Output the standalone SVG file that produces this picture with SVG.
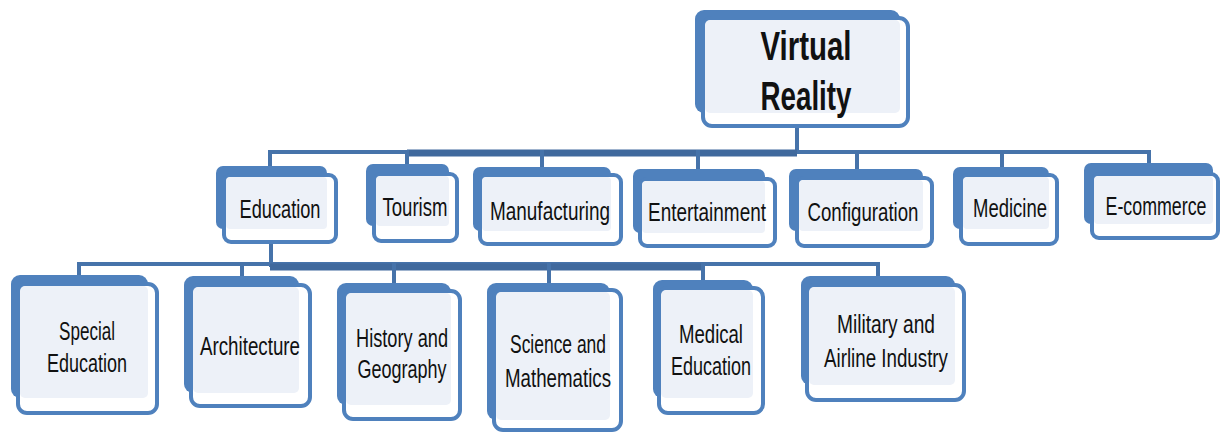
<svg xmlns="http://www.w3.org/2000/svg" width="1224" height="433" viewBox="0 0 1224 433">
<style>
.back{fill:#4f81bd}
.front{fill:#ffffff;stroke:#4f81bd;stroke-width:4}
.light{fill:#edf1f8}
.t{font-family:"Liberation Sans",Arial,sans-serif;font-size:25px;fill:#111;text-anchor:middle}
.tb{font-family:"Liberation Sans",Arial,sans-serif;font-size:41px;font-weight:bold;fill:#111;text-anchor:middle}
.c{stroke:#4673aa;fill:none;stroke-width:4}
.ct{stroke:#40699d;fill:none;stroke-width:7}
</style>
<rect width="1224" height="433" fill="#ffffff"/>
<g id="connectors">
<line class="c" x1="797" y1="126" x2="797" y2="153"/>
<line class="c" x1="270" y1="152" x2="1149" y2="152"/>
<line class="ct" x1="407" y1="153" x2="797" y2="153"/>
<line class="c" x1="270" y1="150" x2="270" y2="170"/>
<line class="c" x1="407" y1="150" x2="407" y2="170"/>
<line class="c" x1="542" y1="150" x2="542" y2="170"/>
<line class="c" x1="698" y1="150" x2="698" y2="172"/>
<line class="c" x1="857" y1="150" x2="857" y2="172"/>
<line class="c" x1="1002" y1="150" x2="1002" y2="170"/>
<line class="c" x1="1149" y1="150" x2="1149" y2="168"/>
<line class="c" x1="271" y1="242" x2="271" y2="267"/>
<line class="c" x1="79" y1="264" x2="878" y2="264"/>
<line class="ct" x1="270" y1="267" x2="703" y2="267"/>
<line class="c" x1="79" y1="262" x2="79" y2="280"/>
<line class="c" x1="242" y1="262" x2="242" y2="280"/>
<line class="c" x1="394" y1="262" x2="394" y2="286"/>
<line class="c" x1="549" y1="262" x2="549" y2="286"/>
<line class="c" x1="703" y1="262" x2="703" y2="284"/>
<line class="c" x1="878" y1="262" x2="878" y2="280"/>
</g>
<g id="virtual-reality">
<rect class="back" x="695" y="10" width="205" height="103" rx="9"/>
<rect class="front" x="703" y="18" width="205" height="108" rx="9"/>
<rect class="light" x="705" y="20" width="195" height="93" rx="5"/>
<text class="tb" x="806" y="60" textLength="91" lengthAdjust="spacingAndGlyphs">Virtual</text>
<text class="tb" x="806" y="110" textLength="91" lengthAdjust="spacingAndGlyphs">Reality</text>
</g>
<g id="education">
<rect class="back" x="216" y="166" width="111" height="63" rx="7"/>
<rect class="front" x="224" y="175" width="112" height="67" rx="7"/>
<rect class="light" x="226" y="177" width="101" height="52" rx="4"/>
<text class="t" x="280" y="218" textLength="81" lengthAdjust="spacingAndGlyphs">Education</text>
</g>
<g id="tourism">
<rect class="back" x="366" y="164" width="83" height="62" rx="7"/>
<rect class="front" x="374" y="174" width="83" height="67" rx="7"/>
<rect class="light" x="376" y="176" width="73" height="50" rx="4"/>
<text class="t" x="415" y="216" textLength="65" lengthAdjust="spacingAndGlyphs">Tourism</text>
</g>
<g id="manufacturing">
<rect class="back" x="473" y="167" width="138" height="64" rx="7"/>
<rect class="front" x="480" y="175" width="141" height="69" rx="7"/>
<rect class="light" x="482" y="177" width="129" height="54" rx="4"/>
<text class="t" x="550" y="220" textLength="120" lengthAdjust="spacingAndGlyphs">Manufacturing</text>
</g>
<g id="entertainment">
<rect class="back" x="633" y="169" width="132" height="64" rx="7"/>
<rect class="front" x="640" y="179" width="135" height="67" rx="7"/>
<rect class="light" x="642" y="181" width="123" height="52" rx="4"/>
<text class="t" x="707" y="221" textLength="118" lengthAdjust="spacingAndGlyphs">Entertainment</text>
</g>
<g id="configuration">
<rect class="back" x="789" y="169" width="134" height="62" rx="7"/>
<rect class="front" x="797" y="178" width="135" height="68" rx="7"/>
<rect class="light" x="799" y="180" width="124" height="51" rx="4"/>
<text class="t" x="863" y="221" textLength="111" lengthAdjust="spacingAndGlyphs">Configuration</text>
</g>
<g id="medicine">
<rect class="back" x="953" y="167" width="96" height="62" rx="7"/>
<rect class="front" x="961" y="175" width="96" height="69" rx="7"/>
<rect class="light" x="963" y="177" width="86" height="52" rx="4"/>
<text class="t" x="1010" y="217" textLength="74" lengthAdjust="spacingAndGlyphs">Medicine</text>
</g>
<g id="e-commerce">
<rect class="back" x="1084" y="163" width="129" height="61" rx="7"/>
<rect class="front" x="1092" y="174" width="126" height="64" rx="7"/>
<rect class="light" x="1094" y="176" width="119" height="48" rx="4"/>
<text class="t" x="1156" y="215" textLength="101" lengthAdjust="spacingAndGlyphs">E-commerce</text>
</g>
<g id="special-education">
<rect class="back" x="11" y="275" width="137" height="123" rx="9"/>
<rect class="front" x="18" y="284" width="139" height="129" rx="9"/>
<rect class="light" x="20" y="286" width="128" height="112" rx="5"/>
<text class="t" x="87" y="340" textLength="56" lengthAdjust="spacingAndGlyphs">Special</text>
<text class="t" x="87" y="372" textLength="80" lengthAdjust="spacingAndGlyphs">Education</text>
</g>
<g id="architecture">
<rect class="back" x="184" y="276" width="115" height="117" rx="9"/>
<rect class="front" x="191" y="285" width="119" height="121" rx="9"/>
<rect class="light" x="193" y="287" width="106" height="106" rx="5"/>
<text class="t" x="250" y="355" textLength="100" lengthAdjust="spacingAndGlyphs">Architecture</text>
</g>
<g id="history-geography">
<rect class="back" x="337" y="283" width="114" height="122" rx="9"/>
<rect class="front" x="344" y="291" width="116" height="128" rx="9"/>
<rect class="light" x="346" y="293" width="105" height="112" rx="5"/>
<text class="t" x="402" y="347" textLength="92" lengthAdjust="spacingAndGlyphs">History and</text>
<text class="t" x="402" y="378" textLength="89" lengthAdjust="spacingAndGlyphs">Geography</text>
</g>
<g id="science-mathematics">
<rect class="back" x="487" y="283" width="123" height="137" rx="9"/>
<rect class="front" x="494" y="290" width="127" height="140" rx="9"/>
<rect class="light" x="496" y="292" width="114" height="128" rx="5"/>
<text class="t" x="558" y="353" textLength="96" lengthAdjust="spacingAndGlyphs">Science and</text>
<text class="t" x="558" y="387" textLength="106" lengthAdjust="spacingAndGlyphs">Mathematics</text>
</g>
<g id="medical-education">
<rect class="back" x="653" y="280" width="100" height="118" rx="9"/>
<rect class="front" x="659" y="288" width="104" height="125" rx="9"/>
<rect class="light" x="661" y="290" width="92" height="108" rx="5"/>
<text class="t" x="711" y="343" textLength="64" lengthAdjust="spacingAndGlyphs">Medical</text>
<text class="t" x="711" y="375" textLength="80" lengthAdjust="spacingAndGlyphs">Education</text>
</g>
<g id="military-airline">
<rect class="back" x="801" y="276" width="154" height="109" rx="9"/>
<rect class="front" x="807" y="285" width="157" height="115" rx="9"/>
<rect class="light" x="809" y="287" width="146" height="98" rx="5"/>
<text class="t" x="886" y="333" textLength="98" lengthAdjust="spacingAndGlyphs">Military and</text>
<text class="t" x="886" y="367" textLength="124" lengthAdjust="spacingAndGlyphs">Airline Industry</text>
</g>
</svg>
